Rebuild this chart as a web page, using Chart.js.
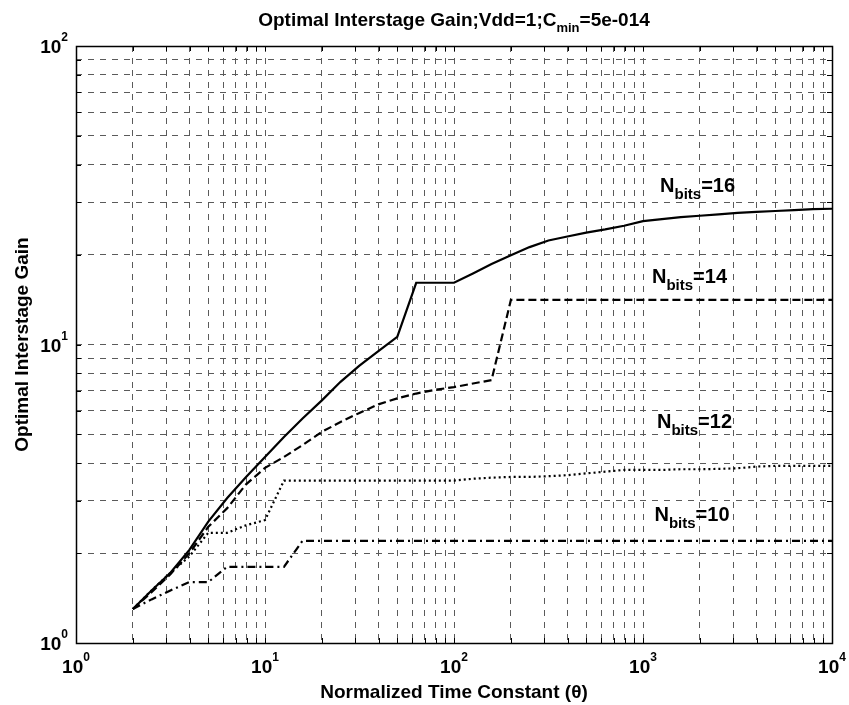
<!DOCTYPE html>
<html>
<head>
<meta charset="utf-8">
<script src="https://cdn.jsdelivr.net/npm/chart.js@4/dist/chart.umd.min.js"></script>
<style>
  html, body { margin: 0; padding: 0; background: #fff; }
  #wrap { width: 849px; height: 705px; }
</style>
</head>
<body>
<div id="wrap"><canvas id="myChart" width="849" height="705"></canvas></div>
<script>
// theta values (log spaced, 0.1 decade steps)
const theta = [2, 2.51, 3.16, 3.98, 5.01, 6.31, 7.94, 10, 12.6, 15.8, 20, 25.1, 31.6, 39.8, 50.1, 63.1, 79.4,
  100, 126, 158, 200, 251, 316, 398, 501, 631, 794, 1000, 1259, 1585, 1995, 2512, 3162, 3981, 5012, 6310, 7943, 10000];

// optimal interstage gain per resolution
const gain16 = [1.3, 1.5, 1.72, 2.05, 2.55, 3.06, 3.6, 4.2, 4.9, 5.65, 6.5, 7.5, 8.5, 9.5, 10.6, 16.1, 16.1,
  16.1, 17.3, 18.6, 19.9, 21.2, 22.3, 23.0, 23.7, 24.3, 25.0, 25.9, 26.3, 26.7, 27.0, 27.3, 27.6, 27.8, 28.0, 28.2, 28.4, 28.5];
const gain14 = [1.3, 1.48, 1.7, 2.0, 2.45, 2.83, 3.4, 3.86, 4.2, 4.6, 5.1, 5.5, 5.9, 6.3, 6.6, 6.85, 7.05,
  7.2, 7.4, 7.6, 14.1, 14.1, 14.1, 14.1, 14.1, 14.1, 14.1, 14.1, 14.1, 14.1, 14.1, 14.1, 14.1, 14.1, 14.1, 14.1, 14.1, 14.1];
const gain12 = [1.3, 1.5, 1.72, 1.95, 2.34, 2.34, 2.48, 2.58, 3.5, 3.5, 3.5, 3.5, 3.5, 3.5, 3.5, 3.5, 3.5,
  3.5, 3.55, 3.58, 3.6, 3.6, 3.62, 3.65, 3.7, 3.75, 3.8, 3.8, 3.8, 3.82, 3.82, 3.83, 3.85, 3.9, 3.92, 3.92, 3.92, 3.92];
const gain10 = [1.3, 1.4, 1.5, 1.6, 1.6, 1.8, 1.8, 1.8, 1.8, 2.2, 2.2, 2.2, 2.2, 2.2, 2.2, 2.2, 2.2,
  2.2, 2.2, 2.2, 2.2, 2.2, 2.2, 2.2, 2.2, 2.2, 2.2, 2.2, 2.2, 2.2, 2.2, 2.2, 2.2, 2.2, 2.2, 2.2, 2.2, 2.2];

// axes
const xDecades = [1, 10, 100, 1000, 10000];
const xTickLabels = ["0", "1", "2", "3", "4"];
const yDecades = [1, 10, 100];
const yTickLabels = ["0", "1", "2"];
const minorSteps = [2, 3, 4, 5, 6, 7, 8, 9];

// curve labels: [bits, theta, gain] (anchor of the text)
const curveLabels = [["16", 1231, 32.4], ["14", 1116, 16.1], ["12", 1186, 5.25], ["10", 1150, 2.56]];

const FONT = "'Liberation Sans', Arial, sans-serif";

function gridValues(decades) {
  let vals = [];
  decades.forEach((d, i) => {
    vals.push(d);
    if (i < decades.length - 1) minorSteps.forEach(m => vals.push(d * m));
  });
  return vals;
}

//dibuja texto con sub/superindices
function richText(ctx, parts, x, y, align) {
  let w = 0;
  parts.forEach(p => { ctx.font = "bold " + p[1] + "px " + FONT; w += ctx.measureText(p[0]).width; });
  let cx = align === "center" ? x - w / 2 : align === "right" ? x - w : x;
  ctx.textAlign = "left";
  ctx.textBaseline = "alphabetic";
  parts.forEach(p => {
    ctx.font = "bold " + p[1] + "px " + FONT;
    ctx.fillText(p[0], cx, y + (p[2] || 0));
    cx += ctx.measureText(p[0]).width;
  });
}

const textPlugin = {
  id: "matlabText",
  afterDatasetsDraw(chart) {
    const { ctx, chartArea: a, scales } = chart;
    ctx.save();
    // ticks inside the box
    ctx.strokeStyle = "#000";
    ctx.lineWidth = 1;
    ctx.beginPath();
    gridValues(xDecades).forEach(v => {
      const px = Math.round(scales.x.getPixelForValue(v)) + 0.5;
      ctx.moveTo(px, a.bottom); ctx.lineTo(px, a.bottom - 5);
      ctx.moveTo(px, a.top); ctx.lineTo(px, a.top + 5);
    });
    gridValues(yDecades).forEach(v => {
      const py = Math.round(scales.y.getPixelForValue(v)) + 0.5;
      ctx.moveTo(a.left, py); ctx.lineTo(a.left + 5, py);
      ctx.moveTo(a.right, py); ctx.lineTo(a.right - 5, py);
    });
    ctx.stroke();
    // box
    ctx.lineWidth = 1.5;
    ctx.strokeRect(Math.round(a.left) + 0.5, Math.round(a.top) + 0.5,
      Math.round(a.right - a.left), Math.round(a.bottom - a.top));
    ctx.restore();
  },
  afterDraw(chart) {
    const { ctx, chartArea: a, scales } = chart;
    ctx.save();
    ctx.fillStyle = "#000";
    // titulo
    richText(ctx, [["Optimal Interstage Gain;Vdd=1;C", 19], ["min", 13, 6], ["=5e-014", 19]],
      (a.left + a.right) / 2, 26, "center");
    // tick labels
    xDecades.forEach((v, i) => {
      const px = scales.x.getPixelForValue(v);
      richText(ctx, [["10", 19], [xTickLabels[i], 12, -12]], px, 673, "center");
    });
    yDecades.forEach((v, i) => {
      const py = scales.y.getPixelForValue(v);
      richText(ctx, [["10", 19], [yTickLabels[i], 12, -12]], a.left - 8, py + 7, "right");
    });
    // axis titles
    richText(ctx, [["Normalized Time Constant (\u03b8)", 19]], (a.left + a.right) / 2, 698, "center");
    ctx.save();
    ctx.translate(28, (a.top + a.bottom) / 2);
    ctx.rotate(-Math.PI / 2);
    richText(ctx, [["Optimal Interstage Gain", 19]], 0, 0, "center");
    ctx.restore();
    // curve labels
    curveLabels.forEach(l => {
      const px = scales.x.getPixelForValue(l[1]);
      const py = scales.y.getPixelForValue(l[2]);
      richText(ctx, [["N", 20], ["bits", 15, 7], ["=" + l[0], 20]], px, py, "left");
    });
    ctx.restore();
  }
};

const gridOpts = { color: "#5a5a5a", lineWidth: 1, drawTicks: false };

const ctx = document.getElementById("myChart").getContext("2d");
new Chart(ctx, {
  type: "line",
  data: {
    datasets: [
      { label: "Nbits=16", data: theta.map((t, i) => ({ x: t, y: gain16[i] })), borderColor: "#000", borderWidth: 2.2 },
      { label: "Nbits=14", data: theta.map((t, i) => ({ x: t, y: gain14[i] })), borderColor: "#000", borderWidth: 2.2, borderDash: [8, 4] },
      { label: "Nbits=12", data: theta.map((t, i) => ({ x: t, y: gain12[i] })), borderColor: "#000", borderWidth: 2.2, borderDash: [2, 3] },
      { label: "Nbits=10", data: theta.map((t, i) => ({ x: t, y: gain10[i] })), borderColor: "#000", borderWidth: 2.2, borderDash: [8, 4, 2, 4] },
    ],
  },
  options: {
    responsive: false,
    animation: false,
    layout: { padding: { left: 76, right: 17, top: 46, bottom: 62 } },
    elements: { point: { radius: 0 }, line: { tension: 0 } },
    plugins: { legend: { display: false }, tooltip: { enabled: false } },
    scales: {
      x: {
        type: "logarithmic", min: 1, max: 10000,
        afterBuildTicks: (s) => { s.ticks = gridValues(xDecades).map(v => ({ value: v })); },
        ticks: { display: false },
        grid: gridOpts,
        border: { display: false, dash: [6, 6] },
      },
      y: {
        type: "logarithmic", min: 1, max: 100,
        afterBuildTicks: (s) => { s.ticks = gridValues(yDecades).map(v => ({ value: v })); },
        ticks: { display: false },
        grid: gridOpts,
        border: { display: false, dash: [6, 6] },
      },
    },
  },
  plugins: [textPlugin],
});
</script>
</body>
</html>
